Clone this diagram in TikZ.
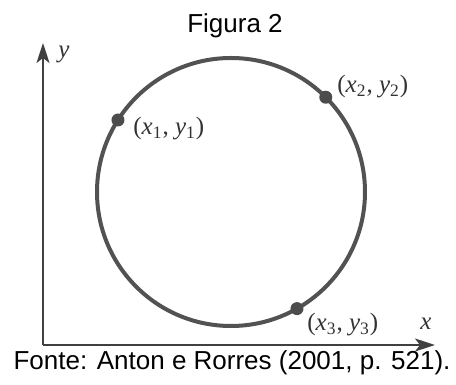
\documentclass[tikz,border=0pt]{standalone}
\usepackage{fontspec}
\setmainfont{Liberation Sans}
\newfontfamily\serifrm{Liberation Serif}
\usetikzlibrary{arrows.meta,positioning}

\begin{document}
\begin{tikzpicture}[
  x=0.5pt, y=0.5pt,
  axis/.style={draw=black!75, line width=0.9pt, -{Stealth[length=10pt,width=6.5pt,inset=2.5pt]}},
  ring/.style={draw=black!68, line width=2pt},
  dot/.style={circle, fill=black!70, inner sep=0pt, minimum size=6.5pt},
  lbl/.style={font=\serifrm\fontsize{12.5}{14}\selectfont, text=black!80, inner sep=0pt},
  captext/.style={font=\fontsize{13}{15}\selectfont, inner sep=0pt}
]
  \useasboundingbox (0,0) rectangle (456,385);
  \coordinate (O) at (43,40);
  \coordinate (X) at (435,40);
  \coordinate (Y) at (43,342);
  \coordinate (C) at (231,193);

  \draw[axis] (O) -- (X);
  \draw[axis] (O) -- (Y);
  \draw[ring] (C) circle[radius=134];

  \node[dot] (p1) at ([shift={(147.5:134)}]C) {};
  \node[dot] (p2) at ([shift={(45:134)}]C)    {};
  \node[dot] (p3) at ([shift={(-60.5:134)}]C) {};

  \node[lbl, anchor=west] (l1) at (133,256)   {(\textit{x}\textsubscript{1}, \textit{y}\textsubscript{1})};
  \node[lbl, anchor=west] (l2) at (337,298.5) {(\textit{x}\textsubscript{2}, \textit{y}\textsubscript{2})};
  \node[lbl, anchor=west] (l3) at (307,60)    {(\textit{x}\textsubscript{3}, \textit{y}\textsubscript{3})};
  \node[lbl] (xl) at (426,61)  {\textit{x}};
  \node[lbl] (yl) at (64,331)  {\textit{y}};

  \node[captext] (title) at (235,359.5) {Figura 2};
  \node[captext] (src)   at (232,22.5)  {Fonte: Anton e Rorres (2001, p. 521).};
\end{tikzpicture}
\end{document}
